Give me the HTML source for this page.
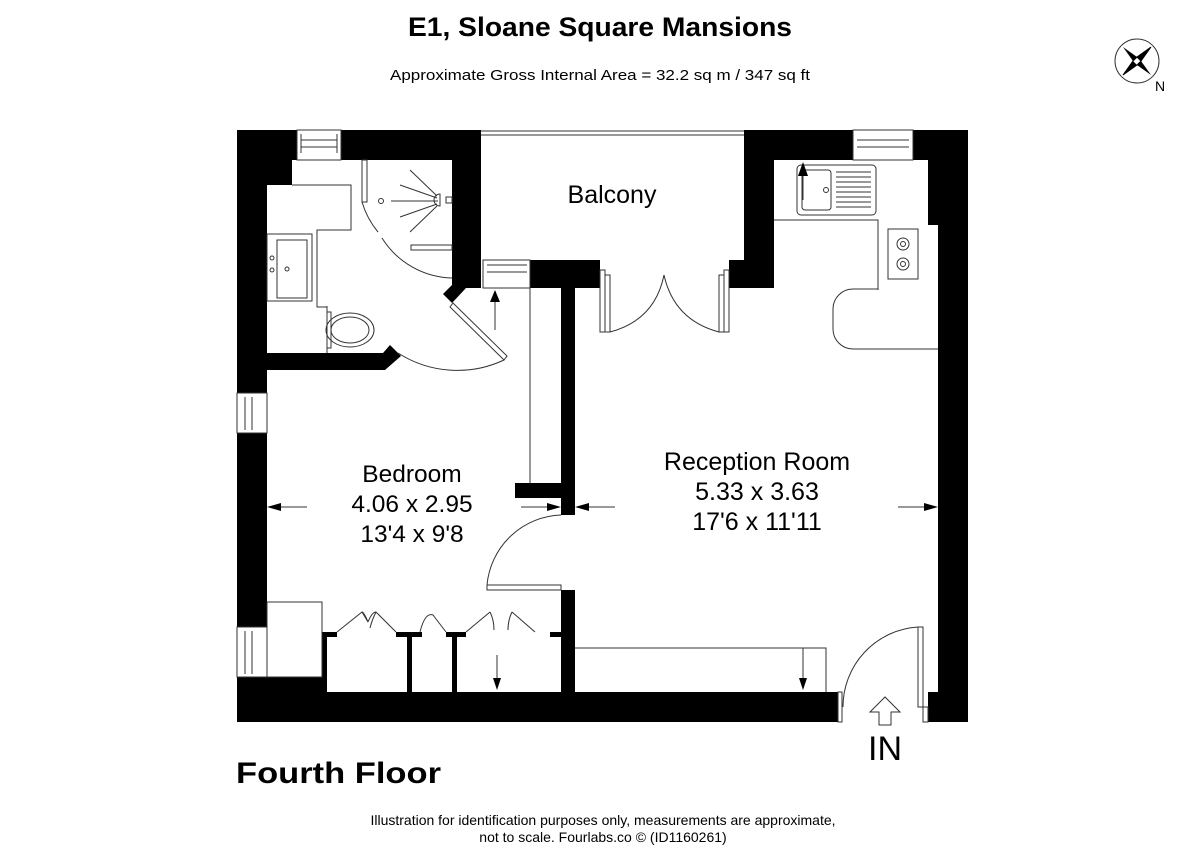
<!DOCTYPE html>
<html><head><meta charset="utf-8"><style>
html,body{margin:0;padding:0;background:#fff;}
svg{display:block;font-family:"Liberation Sans",Arial,sans-serif;}
</style></head><body>
<svg width="1200" height="868" viewBox="0 0 1200 868" xmlns="http://www.w3.org/2000/svg">
<rect width="1200" height="868" fill="#fff"/>
<text x="408" y="36" font-size="27" font-weight="bold" textLength="384" lengthAdjust="spacingAndGlyphs">E1, Sloane Square Mansions</text>
<text x="390" y="80" font-size="15" textLength="420" lengthAdjust="spacingAndGlyphs">Approximate Gross Internal Area = 32.2 sq m / 347 sq ft</text>

<!-- compass -->
<g transform="translate(1137,61)">
<circle r="22" fill="none" stroke="#333" stroke-width="1"/>
<polygon points="-14,-14 0,-4 4,0 0,4 -4,0" fill="#000"/>
<polygon points="14,14 0,4 -4,0 0,-4 4,0" fill="#000"/>
<polygon points="14,-14 4,0 0,4 -4,0 0,-4" fill="#fff" stroke="#000" stroke-width="1"/>
<polygon points="-14,14 -4,0 0,-4 4,0 0,4" fill="#fff" stroke="#000" stroke-width="1"/>
<polygon points="14,-14 4,0 0,-4" fill="#000"/>
<polygon points="-14,14 -4,0 0,4" fill="#000"/>
</g>
<text x="1155" y="91" font-size="14">N</text>

<g fill="#000">
<rect x="237" y="130" width="60" height="30"/>
<rect x="341" y="130" width="140" height="30"/>
<rect x="237" y="160" width="55" height="25"/>
<rect x="237" y="130" width="30" height="263"/>
<rect x="452" y="130" width="29" height="158"/>
<polygon points="452,288 481,288 481,260 470,260 470,288 466,288 452,303 443,294 452,285"/>
<rect x="744" y="130" width="109" height="30"/>
<rect x="913" y="130" width="55" height="30"/>
<rect x="744" y="130" width="30" height="158"/>
<rect x="729" y="260" width="45" height="28"/>
<rect x="928" y="130" width="40" height="95"/>
<rect x="938" y="130" width="30" height="562"/>
<rect x="928" y="692" width="40" height="30"/>
<rect x="530" y="260" width="70" height="28"/>
<rect x="561" y="288" width="14" height="227"/>
<rect x="515" y="483" width="46" height="15"/>
<polygon points="237,353 383,353 390,345 401,356 385,370 267,370 267,393 237,393"/>
<rect x="237" y="433" width="30" height="194"/>
<rect x="237" y="677" width="90" height="15"/>
<rect x="237" y="692" width="601" height="30"/>
<rect x="561" y="590" width="14" height="102"/>
<rect x="322" y="632" width="5" height="60"/><rect x="322" y="632" width="15" height="5"/>
<rect x="407" y="632" width="5" height="60"/><rect x="396" y="632" width="26" height="5"/>
<rect x="452" y="632" width="5" height="60"/><rect x="446" y="632" width="20" height="5"/>
<rect x="550" y="632" width="11" height="5"/>
</g>

<g fill="none" stroke="#333" stroke-width="1">
<rect x="297" y="130" width="44" height="30"/><line x1="301" y1="140" x2="337" y2="140"/><line x1="301" y1="147" x2="337" y2="147"/><line x1="301" y1="134" x2="301" y2="153"/><line x1="337" y1="134" x2="337" y2="153"/>
<rect x="853" y="130" width="60" height="30"/><line x1="857" y1="140" x2="909" y2="140"/><line x1="857" y1="147" x2="909" y2="147"/>
<rect x="483" y="260" width="47" height="28"/><line x1="487" y1="265" x2="527" y2="265"/><line x1="487" y1="272" x2="527" y2="272"/>
<rect x="237" y="393" width="30" height="40"/><line x1="245" y1="397" x2="245" y2="430"/><line x1="252" y1="397" x2="252" y2="430"/>
<rect x="237" y="627" width="30" height="50"/><line x1="245" y1="631" x2="245" y2="674"/><line x1="252" y1="631" x2="252" y2="674"/>
<line x1="481" y1="131" x2="744" y2="131"/><line x1="481" y1="135" x2="744" y2="135"/>
<polyline points="292,185 351,185 351,230 317,230 317,307 327,307"/>
<rect x="267" y="234" width="45" height="67"/><rect x="277" y="240" width="30" height="58"/>
<circle cx="272" cy="258" r="2"/><circle cx="272" cy="270" r="2"/><circle cx="287" cy="269" r="2"/>
<ellipse cx="350" cy="330" rx="24" ry="17"/><ellipse cx="350" cy="330" rx="19" ry="13"/>
<rect x="327" y="312" width="4" height="36"/>
<line x1="327" y1="306" x2="327" y2="353"/>
<rect x="362" y="160" width="5" height="42"/>
<path d="M362,202 A85,85 0 0 0 378,232"/>
<path d="M382,238 A85,85 0 0 0 452,278"/>
<rect x="411" y="245" width="41" height="5"/>
<circle cx="381" cy="201" r="2.5"/>
<path d="M440,194 a6,6 0 0 0 0,12 z"/><rect x="446" y="197" width="6" height="6"/>
<line x1="391" y1="201" x2="438" y2="201"/><line x1="410" y1="170" x2="437" y2="196"/><line x1="400" y1="185" x2="437" y2="198"/><line x1="400" y1="217" x2="437" y2="204"/><line x1="410" y1="232" x2="437" y2="206"/>
<polygon points="450,307 453,303 507,356 504,360"/>
<path d="M398,353 A110,110 0 0 0 504,360"/>
<line x1="495" y1="300" x2="495" y2="330"/>
<line x1="530" y1="288" x2="530" y2="483"/>
<rect x="600" y="270" width="5" height="62"/><rect x="605" y="275" width="5" height="57"/>
<rect x="724" y="270" width="5" height="62"/><rect x="719" y="275" width="5" height="57"/>
<path d="M610,332 Q655,320 664,275"/><path d="M719,332 Q674,320 664,275"/>
<polyline points="774,220 878,220 878,290"/>
<rect x="797" y="165" width="79" height="50" rx="4"/><rect x="802" y="170" width="29" height="40" rx="3"/>
<circle cx="826" cy="190" r="2.5"/>
<line x1="836" y1="172" x2="871" y2="172"/><line x1="836" y1="177" x2="871" y2="177"/><line x1="836" y1="182" x2="871" y2="182"/><line x1="836" y1="187" x2="871" y2="187"/><line x1="836" y1="192" x2="871" y2="192"/><line x1="836" y1="197" x2="871" y2="197"/><line x1="836" y1="202" x2="871" y2="202"/><line x1="836" y1="207" x2="871" y2="207"/>
<line x1="803" y1="170" x2="803" y2="200"/>
<rect x="888" y="229" width="30" height="50"/><circle cx="903" cy="244" r="6"/><circle cx="903" cy="244" r="2.5"/><circle cx="903" cy="264" r="6"/><circle cx="903" cy="264" r="2.5"/>
<path d="M878,229 L878,289 L853,289 A20,20 0 0 0 833,309 L833,329 A20,20 0 0 0 853,349 L938,349"/>
<line x1="270" y1="507" x2="307" y2="507"/>
<line x1="521" y1="507" x2="555" y2="507"/>
<line x1="580" y1="507" x2="615" y2="507"/>
<line x1="898" y1="507" x2="935" y2="507"/>
<rect x="487" y="585" width="74" height="5"/>
<path d="M487,585 A77,77 0 0 1 561,515"/>
<rect x="267" y="602" width="55" height="75"/>
<polyline points="337,632 362,612 368,622"/><path d="M368,622 Q372,612 376,612"/><polyline points="376,612 396,632"/>
<path d="M368,622 Q364,612 362,612"/><path d="M376,612 Q372,620 370,628"/>
<path d="M420,632 Q425,612 433,615 L446,632"/>
<polyline points="466,632 490,612"/><path d="M490,612 Q494,620 494,630"/>
<polyline points="535,632 512,612"/><path d="M512,612 Q508,620 508,630"/>
<line x1="497" y1="655" x2="497" y2="680"/>
<polyline points="575,648 826,648 826,692"/>
<line x1="803" y1="648" x2="803" y2="680"/>
<rect x="918" y="627" width="5" height="80"/>
<path d="M843,707 A80,80 0 0 1 918,627"/>
<rect x="838" y="692" width="4" height="30"/>
<rect x="923" y="707" width="5" height="15"/>
<polygon points="885,697 870,712 879,712 879,725 891,725 891,712 900,712"/>
</g>
<g fill="#000">
<polygon points="495,290 490,302 500,302"/>
<polygon points="803,162 798,176 808,176"/>
<polygon points="267,507 281,503 281,511"/>
<polygon points="561,507 547,503 547,511"/>
<polygon points="575,507 589,503 589,511"/>
<polygon points="938,507 924,503 924,511"/>
<polygon points="497,690 493,678 501,678"/>
<polygon points="803,690 799,678 807,678"/>
</g>

<text x="612" y="203" font-size="25" text-anchor="middle">Balcony</text>
<text x="412" y="482" font-size="24.5" text-anchor="middle">Bedroom</text>
<text x="412" y="512" font-size="24.5" text-anchor="middle">4.06 x 2.95</text>
<text x="412" y="542" font-size="24.5" text-anchor="middle">13'4 x 9'8</text>
<text x="757" y="470" font-size="25" text-anchor="middle">Reception Room</text>
<text x="757" y="500" font-size="25" text-anchor="middle">5.33 x 3.63</text>
<text x="757" y="530" font-size="25" text-anchor="middle">17'6 x 11'11</text>
<text x="885" y="760" font-size="34" text-anchor="middle">IN</text>
<text x="236" y="783" font-size="30" font-weight="bold" textLength="205" lengthAdjust="spacingAndGlyphs">Fourth Floor</text>
<text x="603" y="825" font-size="14" text-anchor="middle">Illustration for identification purposes only, measurements are approximate,</text>
<text x="603" y="842" font-size="14" text-anchor="middle">not to scale. Fourlabs.co © (ID1160261)</text>
</svg>
</body></html>
